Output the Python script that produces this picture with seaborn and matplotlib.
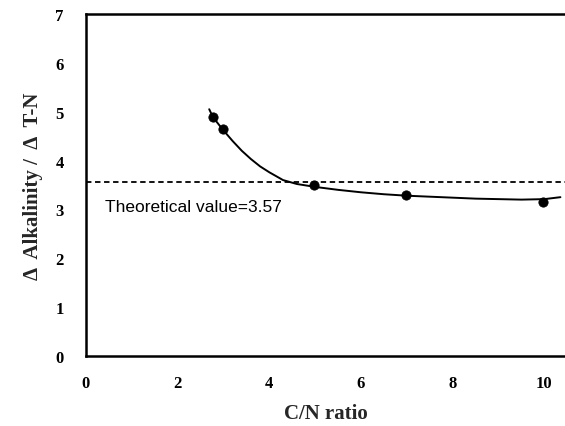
import matplotlib
matplotlib.use("Agg")
import matplotlib.pyplot as plt
import seaborn as sns
import pandas as pd

# measured data points
cn_ratio = [2.77, 2.98, 4.98, 6.99, 9.97]
alk_ratio = [4.89, 4.64, 3.50, 3.29, 3.16]

# fitted curve
curve_x = [2.69, 2.77, 2.98, 3.2, 3.4, 3.6, 3.8, 4.0, 4.3, 4.6, 5.0, 5.5, 6.0,
           6.5, 7.0, 7.5, 8.0, 8.5, 9.0, 9.5, 10.0, 10.35]
curve_y = [5.05, 4.89, 4.64, 4.40, 4.20, 4.03, 3.88, 3.76, 3.60, 3.52, 3.46, 3.40, 3.35,
           3.31, 3.28, 3.26, 3.24, 3.22, 3.21, 3.20, 3.21, 3.25]

theoretical = 3.57
x_ticks = [0, 2, 4, 6, 8, 10]
y_ticks = [0, 1, 2, 3, 4, 5, 6, 7]

sns.set_theme(style="white")
plt.rcParams['font.family'] = ['Liberation Serif', 'DejaVu Serif']

fig = plt.figure(figsize=(5.65, 4.27), dpi=100)
ax = fig.add_axes([0.152, 0.164, 0.848, 0.801])

pts = pd.DataFrame({"x": cn_ratio, "y": alk_ratio})
crv = pd.DataFrame({"x": curve_x, "y": curve_y})

sns.lineplot(data=crv, x="x", y="y", ax=ax, color="black", linewidth=1.4, sort=False)
sns.scatterplot(data=pts, x="x", y="y", ax=ax, color="black", s=45, edgecolor="black", zorder=5)
ax.axhline(theoretical, color="black", linestyle=(0, (3, 2)), linewidth=1.3)

ax.text(0.41, 3.05, "Theoretical value=3.57", family=['Liberation Sans', 'DejaVu Sans'],
        fontsize=12.5, va="center", ha="left", color="black")

ax.set_xlim(0, 10.45)
ax.set_ylim(0, 7)
ax.set_xticks(x_ticks)
ax.set_yticks(y_ticks)
ax.set_xticklabels([str(v) for v in x_ticks], fontweight="bold", fontsize=12)
ax.set_yticklabels([str(v) for v in y_ticks], fontweight="bold", fontsize=12)
ax.tick_params(axis="both", direction="in", length=4, width=1, colors="black")
ax.tick_params(axis="x", pad=14)
ax.tick_params(axis="y", pad=16)

ax.set_xlabel("C/N ratio", fontweight="bold", fontsize=15, labelpad=8)
ax.set_ylabel("Δ  Alkalinity /  Δ  T-N", fontweight="bold", fontsize=15, labelpad=9)

for side in ["left", "bottom", "top"]:
    ax.spines[side].set_visible(True)
    ax.spines[side].set_color("black")
    ax.spines[side].set_linewidth(1.8)
ax.spines["right"].set_visible(False)

fig.savefig("out.png", dpi=100)
